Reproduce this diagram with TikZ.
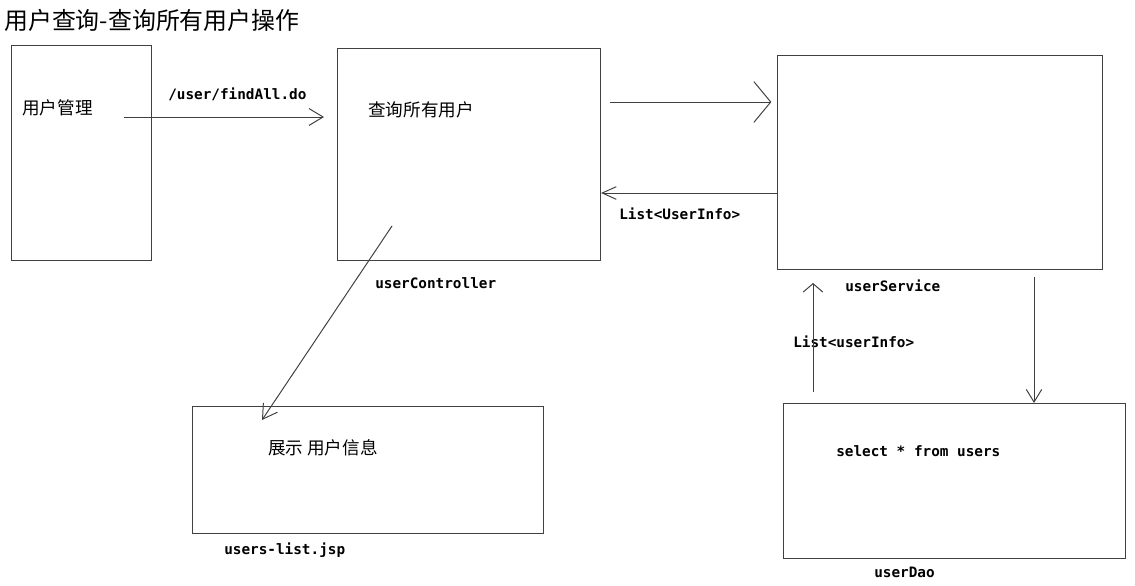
\documentclass[tikz,border=0pt]{standalone}
\usepackage{fontspec}
\newfontfamily\cjk{Noto Sans CJK SC}
\newfontfamily\codefont{DejaVu Sans Mono}
\usetikzlibrary{arrows.meta}
\tikzset{
  box/.style={draw=black!75, line width=0.7pt, anchor=north west, inner sep=0pt},
  code/.style={font=\codefont\bfseries\fontsize{10.2}{12}\selectfont, anchor=west, inner sep=0pt},
  han/.style={font=\cjk\fontsize{12.5}{15}\selectfont, anchor=west, inner sep=0pt},
  pen/.style={draw=black!75, line width=0.7pt, -{Straight Barb[length=10pt,width=12pt]}}
}
\begin{document}
\begin{tikzpicture}[x=0.025cm, y=-0.025cm]
			\useasboundingbox (0,0) rectangle (1135,585);
			%Title
			\node[han, font=\cjk\fontsize{17}{20}\selectfont] (title) at (4,20) {用户查询-查询所有用户操作};
			%Boxes
			\node[box, minimum width=3.5cm, minimum height=5.375cm] (mgmt) at (11,45) {};
			\node[box, minimum width=6.575cm, minimum height=5.3cm] (ctrl) at (337,48) {};
			\node[box, minimum width=8.125cm, minimum height=5.35cm] (service) at (777,55) {};
			\node[box, minimum width=8.775cm, minimum height=3.175cm] (jsp) at (192,406) {};
			\node[box, minimum width=8.55cm, minimum height=3.875cm] (dao) at (783,403) {};
			%Texts
			\node[han] (mgmt-text) at (22,108) {用户管理};
			\node[han] (ctrl-text) at (368,110) {查询所有用户};
			\node[han] (jsp-text) at (268,448) {展示\ 用户信息};
			\node[code] (url) at (168,94) {/user/findAll.do};
			\node[code] (ctrl-name) at (375,283) {userController};
			\node[code] (svc-name) at (845,286) {userService};
			\node[code] (jsp-name) at (224,550) {users-list.jsp};
			\node[code] (dao-name) at (874,572) {userDao};
			\node[code] (sql) at (836,451) {select * from users};
			\node[code] (svc-result) at (619,214) {List<UserInfo>};
			\node[code] (dao-result) at (793,342) {List<userInfo>};
			%Arrows
			\coordinate (mgmt-out) at (124,117);
			\coordinate (ctrl-in) at (324,117);
			\coordinate (ctrl-out) at (610,102);
			\coordinate (svc-back) at (777,193);
			\coordinate (ctrl-down) at (392,226);
			\coordinate (jsp-in) at (262,420);
			\coordinate (svc-down) at (1034,277);
			\coordinate (dao-up) at (813,392);
			\coordinate (svc-in) at (813,283);
			\draw[pen] (mgmt-out) -- (ctrl-in);
			\draw[pen, -{Straight Barb[length=12pt,width=29pt]}, shorten >=4pt] (ctrl-out) -- (ctrl-out -| service.west);
			\draw[pen, -{Straight Barb[length=10pt,width=9pt]}] (svc-back) -- (svc-back -| ctrl.east);
			\draw[pen] (ctrl-down) -- (jsp-in);
			\draw[pen, -{Straight Barb[length=9pt,width=11pt]}] (svc-down) -- (svc-down |- dao.north);
			\draw[pen, -{Straight Barb[length=6pt,width=14pt]}] (dao-up) -- (svc-in);
			\end{tikzpicture}
\end{document}
